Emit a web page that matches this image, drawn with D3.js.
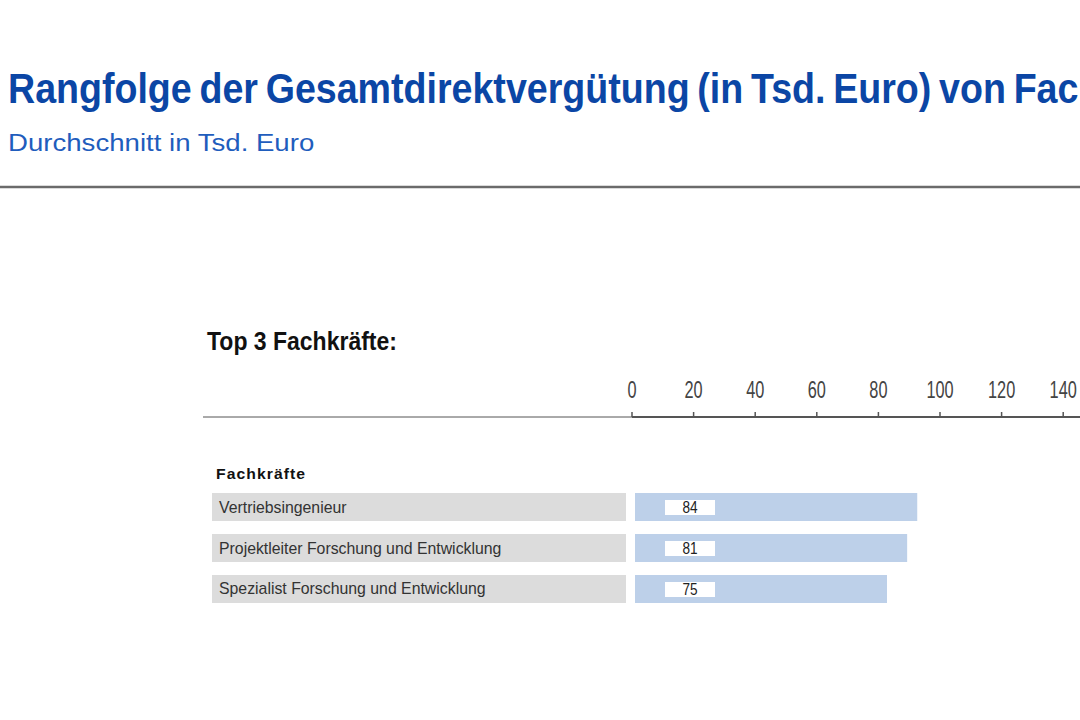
<!DOCTYPE html>
<meta charset="utf-8">
<script src="https://d3js.org/d3.v7.min.js"></script>
<style>
	body{
		margin:0;
		font-family: 'Liberation Sans', Arial, sans-serif;
		background:#fff;
	}
	svg{display:block;}
</style>
<div id="chart"></div>
<script>

var titleText = "Rangfolge der Gesamtdirektvergütung (in Tsd. Euro) von Fachkräften"
var subtitleText = "Durchschnitt in Tsd. Euro"
var sectionTitle = "Top 3 Fachkräfte:"
var groupLabel = "Fachkräfte"

var categories = ["Vertriebsingenieur","Projektleiter Forschung und Entwicklung","Spezialist Forschung und Entwicklung"]
var values = [84,81,75]
var tickValues = [0,20,40,60,80,100,120,140]

var w = 1080
var h = 720

var svg = d3.select("#chart").append("svg").attr("width",w).attr("height",h)

// header (title runs off the right edge, as in the original)
svg.append("text").text(titleText)
	.attr("transform","translate(8,103) scale(0.895,1)")
	.style("font-size","42px").style("font-weight","bold").style("word-spacing","-3px").attr("fill","#0b46a5")

svg.append("text").text(subtitleText)
	.attr("transform","translate(8,151) scale(1.15,1)")
	.style("font-size","24px").attr("fill","#1f5dbd")

svg.append("line").attr("x1",0).attr("x2",w).attr("y1",187).attr("y2",187)
	.attr("stroke","#6b6b6b").attr("stroke-width",2.5)

svg.append("text").text(sectionTitle)
	.attr("transform","translate(207,350) scale(0.92,1)")
	.style("font-size","25px").style("font-weight","bold").attr("fill","#111")

// scales
var x = d3.scaleLinear().domain([0,140]).range([632,632+140*3.08])
// bars are drawn a bit wider than the axis in the original
var barX = d3.scaleLinear().domain([0,100]).range([635,635+336])
var y = d3.scaleBand().domain(categories).range([493,603]).paddingInner(0.317)

// axis
var axisY = 417
svg.append("line").attr("x1",203).attr("x2",632).attr("y1",axisY).attr("y2",axisY)
	.attr("stroke","#555").attr("stroke-width",1)
svg.append("line").attr("x1",632).attr("x2",w).attr("y1",axisY).attr("y2",axisY)
	.attr("stroke","#555").attr("stroke-width",2)

var ticks = svg.append("g").selectAll(".tick").data(tickValues).enter().append("g")
ticks.append("line")
	.attr("x1",function(d){return x(d)}).attr("x2",function(d){return x(d)})
	.attr("y1",axisY-5).attr("y2",axisY)
	.attr("stroke","#555").attr("stroke-width",1.5)
ticks.append("text")
	.attr("transform",function(d){return "translate("+x(d)+",398) scale(0.68,1)"})
	.attr("text-anchor","middle")
	.style("font-size","24px").attr("fill","#444")
	.text(function(d){return d})

// group label
svg.append("text").text(groupLabel)
	.attr("transform","translate(216,479) scale(1.05,1)")
	.style("font-size","15px").style("font-weight","bold").style("letter-spacing","1px").attr("fill","#111")

// rows
var rows = svg.append("g").selectAll(".row").data(categories).enter().append("g")

rows.append("rect")
	.attr("x",212).attr("width",626-212)
	.attr("y",function(d){return y(d)}).attr("height",y.bandwidth())
	.attr("fill","#dcdcdc")

rows.append("text")
	.attr("transform",function(d){return "translate(219,"+(y(d)+y.bandwidth()/2+5.5)+") scale(0.99,1)"})
	.style("font-size","16px").attr("fill","#333")
	.text(function(d){return d})

rows.append("rect")
	.attr("x",barX(0))
	.attr("width",function(d,i){return barX(values[i])-barX(0)})
	.attr("y",function(d){return y(d)}).attr("height",y.bandwidth())
	.attr("fill","#bdd0e9")

rows.append("rect")
	.attr("x",665).attr("width",50)
	.attr("y",function(d){return y(d)+7}).attr("height",15)
	.attr("fill","#fff")

rows.append("text")
	.attr("transform",function(d){return "translate(690,"+(y(d)+y.bandwidth()/2+6)+") scale(0.85,1)"})
	.attr("text-anchor","middle")
	.style("font-size","16px").attr("fill","#222")
	.text(function(d,i){return values[i]})

</script>
